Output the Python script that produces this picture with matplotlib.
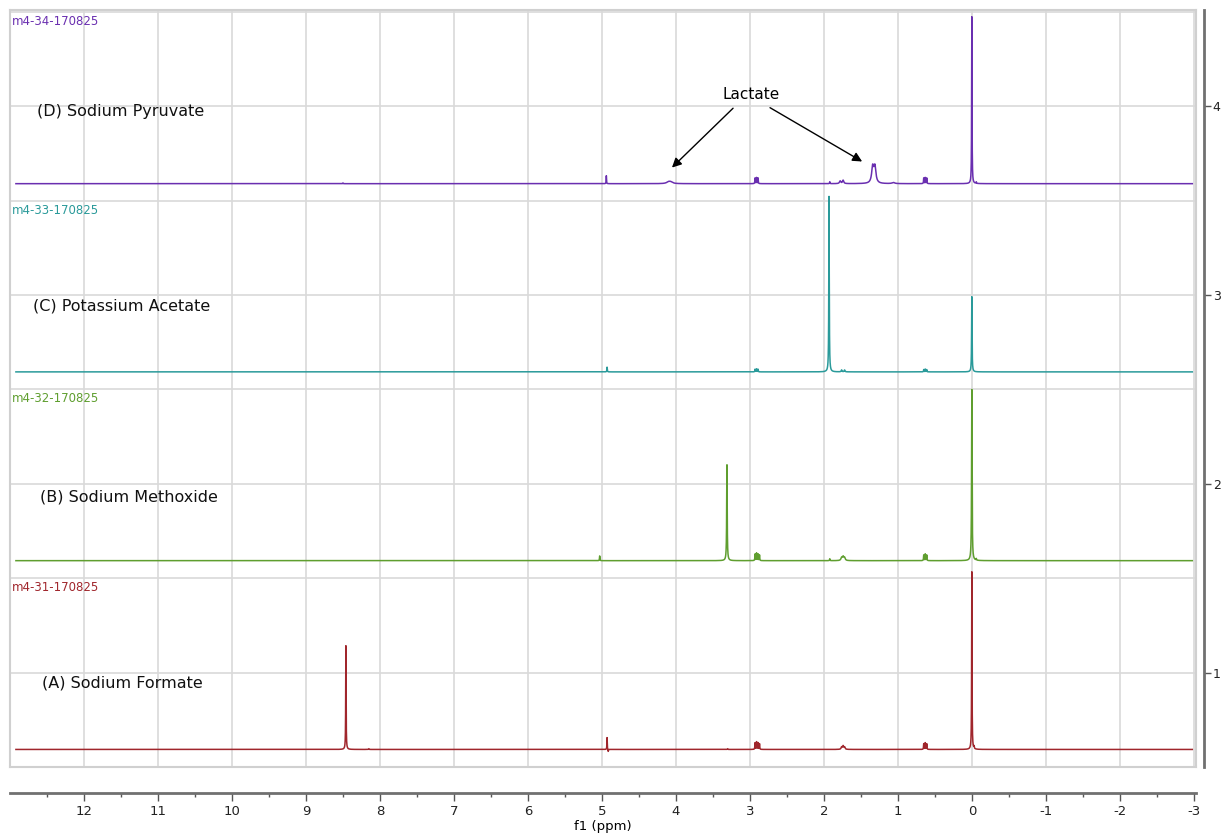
import numpy as np
import matplotlib
matplotlib.use("Agg")
from matplotlib import pyplot as plt

plt.rcParams["axes.unicode_minus"] = False

# stacked 1H NMR spectra, one row per sample (A bottom .. D top)
names = ["(A) Sodium Formate", "(B) Sodium Methoxide", "(C) Potassium Acetate", "(D) Sodium Pyruvate"]
file_ids = ["m4-31-170825", "m4-32-170825", "m4-33-170825", "m4-34-170825"]
colors = ["#a0262c", "#5f9e2f", "#2a9a9a", "#6a2fb0"]
offsets = [0.593, 1.593, 2.593, 3.59]

# peak lists: position (ppm), height (axis units), half width (ppm)
peaks_a_pos = [8.46, 4.93, 4.915, 2.93, 2.91, 2.89, 2.87, 1.76, 1.74, 1.72, 0.65, 0.63, 0.61, 0.0, -0.03, 3.3, 8.15]
peaks_a_h = [0.55, 0.063, -0.012, 0.035, 0.04, 0.035, 0.03, 0.012, 0.018, 0.012, 0.03, 0.035, 0.03, 0.947, 0.012, 0.004, 0.004]
peaks_a_w = [0.003, 0.0025, 0.0025, 0.003, 0.003, 0.003, 0.003, 0.008, 0.008, 0.008, 0.003, 0.003, 0.003, 0.003, 0.003, 0.003, 0.003]

peaks_b_pos = [5.03, 3.31, 2.93, 2.91, 2.89, 2.87, 1.92, 1.76, 1.74, 1.72, 0.65, 0.63, 0.61, 0.0, -0.06]
peaks_b_h = [0.025, 0.51, 0.035, 0.04, 0.035, 0.03, 0.01, 0.015, 0.02, 0.015, 0.03, 0.035, 0.03, 0.91, 0.008]
peaks_b_w = [0.003, 0.004, 0.003, 0.003, 0.003, 0.003, 0.003, 0.01, 0.01, 0.01, 0.003, 0.003, 0.003, 0.004, 0.003]

peaks_c_pos = [4.93, 2.93, 2.91, 2.89, 1.93, 1.76, 1.72, 0.65, 0.63, 0.61, 0.0]
peaks_c_h = [0.025, 0.014, 0.016, 0.014, 0.93, 0.01, 0.01, 0.012, 0.015, 0.012, 0.40]
peaks_c_w = [0.003, 0.003, 0.003, 0.003, 0.0035, 0.006, 0.006, 0.003, 0.003, 0.003, 0.0035]

peaks_d_pos = [8.5, 4.94, 4.1, 4.07, 2.93, 2.91, 2.89, 1.92, 1.78, 1.74, 1.34, 1.31, 1.06, 0.65, 0.63, 0.61, 0.0, -0.06]
peaks_d_h = [0.004, 0.042, 0.008, 0.008, 0.03, 0.032, 0.03, 0.01, 0.014, 0.018, 0.085, 0.085, 0.006, 0.03, 0.032, 0.03, 0.89, 0.008]
peaks_d_w = [0.003, 0.0025, 0.03, 0.03, 0.003, 0.003, 0.003, 0.003, 0.01, 0.01, 0.016, 0.016, 0.02, 0.003, 0.003, 0.003, 0.003, 0.003]

peak_pos = [peaks_a_pos, peaks_b_pos, peaks_c_pos, peaks_d_pos]
peak_h = [peaks_a_h, peaks_b_h, peaks_c_h, peaks_d_h]
peak_w = [peaks_a_w, peaks_b_w, peaks_c_w, peaks_d_w]

ppm_ticks = list(range(12, -4, -1))
right_ticks = [1, 2, 3, 4]


def spectrum(ppm, pos, h, w):
    y = np.zeros_like(ppm)
    for p, a, g in zip(pos, h, w):
        y += a * g**2 / ((ppm - p) ** 2 + g**2)
    return y


W, H = 1221, 839
fig = plt.figure(figsize=(W / 100, H / 100), dpi=100)
ax = fig.add_axes([10 / W, (H - 767) / H, (1196 - 10) / W, (767 - 10) / H])
ax.set_xlim(13.0, -3.03)
ax.set_ylim(0.5, 4.51)

# grid
for v in ppm_ticks:
    ax.axvline(v, color="#d9d9d9", lw=1.2, zorder=0)
for v in np.arange(1.0, 4.51, 0.5):
    ax.axhline(v, color="#d9d9d9", lw=1.2, zorder=0)
for s in ax.spines.values():
    s.set_color("#d0d0d0")
    s.set_linewidth(1.5)
ax.set_xticks([])
ax.set_yticks([])

ppm = np.linspace(12.92, -2.98, 30000)
for i in range(4):
    y = offsets[i] + spectrum(ppm, peak_pos[i], peak_h[i], peak_w[i])
    ax.plot(ppm, y, color=colors[i], lw=1.1, zorder=3)
    ax.text(12.97, i + 1.45, file_ids[i], color=colors[i], fontsize=8.5,
            va="center", ha="left", zorder=4)

label_x = [12.57, 12.59, 12.69, 12.64]
label_y = [0.947, 1.93, 2.94, 3.97]
for i in range(4):
    ax.text(label_x[i], label_y[i], names[i], fontsize=11.5, va="center",
            ha="left", color="#111111")

# lactate annotation
ax.text(2.98, 4.06, "Lactate", fontsize=11, ha="center", va="center")
ax.annotate("", xy=(4.08, 3.665), xytext=(3.2, 4.0),
            arrowprops=dict(arrowstyle="-|>", color="black", lw=1, mutation_scale=14))
ax.annotate("", xy=(1.45, 3.70), xytext=(2.76, 4.0),
            arrowprops=dict(arrowstyle="-|>", color="black", lw=1, mutation_scale=14))

# right-hand scale
ax2 = ax.twinx()
ax2.set_ylim(0.5, 4.51)
for k in ["left", "top", "bottom"]:
    ax2.spines[k].set_visible(False)
ax2.spines["right"].set_position(("outward", 6))
ax2.spines["right"].set_color("#707070")
ax2.spines["right"].set_linewidth(2)
ax2.set_yticks(right_ticks)
ax2.tick_params(axis="y", direction="out", length=5, width=1, colors="#555555",
                labelsize=9, labelcolor="#222222", pad=1)

# separate ppm axis below the box
sec = ax.secondary_xaxis(-0.0343)
sec.spines["bottom"].set_color("#707070")
sec.spines["bottom"].set_linewidth(2)
sec.set_xticks(ppm_ticks)
sec.set_xticks(np.arange(12.5, -3.0, -1.0), minor=True)
sec.tick_params(axis="x", which="major", direction="out", length=6, width=1,
                colors="#555555", labelsize=9.5, labelcolor="#222222", pad=3)
sec.tick_params(axis="x", which="minor", direction="out", length=3, width=1,
                colors="#555555")
sec.set_xlabel("f1 (ppm)", fontsize=9.5, labelpad=1)

fig.savefig("out.png", dpi=100)
